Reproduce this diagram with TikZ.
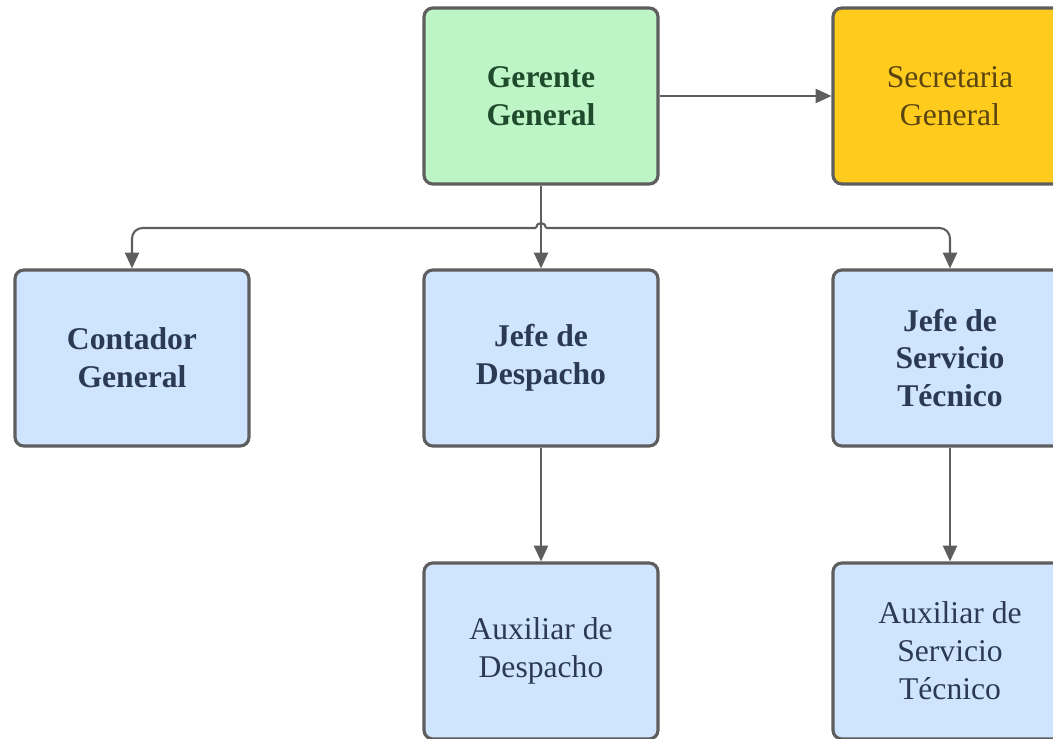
\documentclass[tikz,border=0pt]{standalone}
\usepackage{fontspec}
\setmainfont{Liberation Serif}
\usetikzlibrary{arrows.meta}

\definecolor{boxline}{HTML}{5E5E5E}
\definecolor{greenfill}{HTML}{BDF5C6}
\definecolor{yellowfill}{HTML}{FFCC1E}
\definecolor{bluefill}{HTML}{CFE4FF}
\definecolor{greentext}{HTML}{1F4A2B}
\definecolor{yellowtext}{HTML}{5A4510}
\definecolor{bluetext}{HTML}{2B3A52}

\tikzset{
  orgbox/.style={draw=boxline, line width=1.8pt, rounded corners=5pt,
    minimum width=4.68cm, minimum height=3.52cm, align=center,
    font=\fontsize{18}{21.6}\selectfont, inner sep=0pt},
  bossbox/.style={orgbox, fill=greenfill, text=greentext, font=\fontsize{18}{21.6}\selectfont\bfseries},
  secbox/.style={orgbox, fill=yellowfill, text=yellowtext},
  headbox/.style={orgbox, fill=bluefill, text=bluetext, font=\fontsize{18}{21.6}\selectfont\bfseries},
  auxbox/.style={orgbox, fill=bluefill, text=bluetext},
  wire/.style={draw=boxline, line width=1.2pt},
  conn/.style={wire, -{Triangle[length=9pt,width=8pt]}}
}

\begin{document}
\begin{tikzpicture}[x=0.02cm, y=-0.02cm]
\useasboundingbox (0,0) rectangle (1053,739);

% top row
\node[bossbox] (ger) at (541,96) {Gerente\\General};
\node[secbox] (sec) at (950,96) {Secretaria\\General};

% middle row
\node[headbox] (cg) at (132,358) {Contador\\General};
\node[headbox] (jd) at (541,358) {Jefe de\\Despacho};
\node[headbox] (js) at (950,358) {Jefe de\\Servicio\\Técnico};

% bottom row
\node[auxbox] (ad) at (541,651) {Auxiliar de\\Despacho};
\node[auxbox] (as) at (950,651) {Auxiliar de\\Servicio\\Técnico};

% connectors
\coordinate (hopL) at (536,228);
\coordinate (hopR) at (546,228);

\draw[conn] (ger) -- (sec);
\draw[conn] (ger) -- (jd);
\draw[conn, rounded corners=6pt] (hopL) -| (cg.north);
\draw[conn, rounded corners=6pt] (hopR) -| (js.north);
\draw[wire] (hopL) arc (180:360:5);
\draw[conn] (jd) -- (ad);
\draw[conn] (js) -- (as);
\end{tikzpicture}
\end{document}
